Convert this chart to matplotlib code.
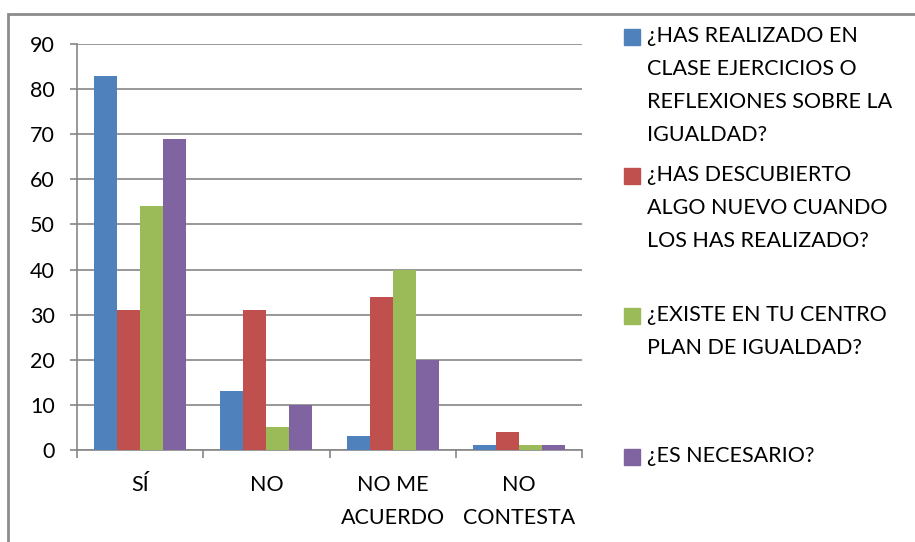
import matplotlib.pyplot as plt
from matplotlib.patches import Rectangle
import numpy as np

plt.rcParams['font.family'] = ['Lato', 'DejaVu Sans']

# Categories and answers
categories = ['SÍ', 'NO', 'NO ME\nACUERDO', 'NO\nCONTESTA']
series_names = [
    '¿HAS REALIZADO EN\nCLASE EJERCICIOS O\nREFLEXIONES SOBRE LA\nIGUALDAD?',
    '¿HAS DESCUBIERTO\nALGO NUEVO CUANDO\nLOS HAS REALIZADO?',
    '¿EXISTE EN TU CENTRO\nPLAN DE IGUALDAD?',
    '¿ES NECESARIO?',
]
realizado = [83, 13, 3, 1]
descubierto = [31, 31, 34, 4]
existe = [54, 5, 40, 1]
necesario = [69, 10, 20, 1]
colors = ['#4F81BD', '#C0504D', '#9BBB59', '#8064A2']

W, H = 915, 542
fs = 15.5
fig = plt.figure(figsize=(W / 100, H / 100), dpi=100)
ax = fig.add_axes([77 / W, 1 - 450 / H, (582 - 77) / W, (450 - 44) / H])

x = np.arange(len(categories))
bw = 0.182
all_series = [realizado, descubierto, existe, necesario]
for i, vals in enumerate(all_series):
    ax.bar(x + (i - 1.5) * bw, vals, width=bw, color=colors[i], zorder=3)

ax.set_xlim(-0.5, len(categories) - 0.5)
ax.set_ylim(0, 90)
ax.set_yticks(range(0, 91, 10))
ax.yaxis.grid(True, color='#868686', linewidth=1.2, zorder=0)

# category tick marks sit between groups
ax.set_xticks(np.arange(-0.5, len(categories), 1.0))
ax.set_xticklabels([])
ax.set_xticks(x, minor=True)
ax.set_xticklabels(categories, minor=True, fontsize=fs, linespacing=1.8)
ax.tick_params(axis='x', which='major', length=6, color='#868686', width=1.2)
ax.tick_params(axis='x', which='minor', length=0, pad=18)
ax.tick_params(axis='y', length=5, color='#868686', width=1.2, pad=11, labelsize=fs)

for s in ['top', 'right']:
    ax.spines[s].set_visible(False)
ax.spines['left'].set_color('#868686')
ax.spines['bottom'].set_color('#868686')
ax.spines['left'].set_linewidth(1.2)
ax.spines['bottom'].set_linewidth(1.2)

# legend, placed in equal slots like the original
slot_tops = [37, 176, 316, 457]
for name, c, top in zip(series_names, colors, slot_tops):
    fig.patches.append(Rectangle((624 / W, 1 - (top + 8) / H), 16 / W, 16 / H,
                                 transform=fig.transFigure, color=c))
    fig.text(647 / W, 1 - (top - 11) / H, name, fontsize=fs, va='top',
             ha='left', linespacing=1.82)

# outer chart frame
fig.patches.append(Rectangle((8 / W, -0.1), 1.2, 1 - 14 / H + 0.1,
                             transform=fig.transFigure, fill=False,
                             edgecolor='#8c8c8c', linewidth=2))

fig.savefig('out.png', dpi=100)
